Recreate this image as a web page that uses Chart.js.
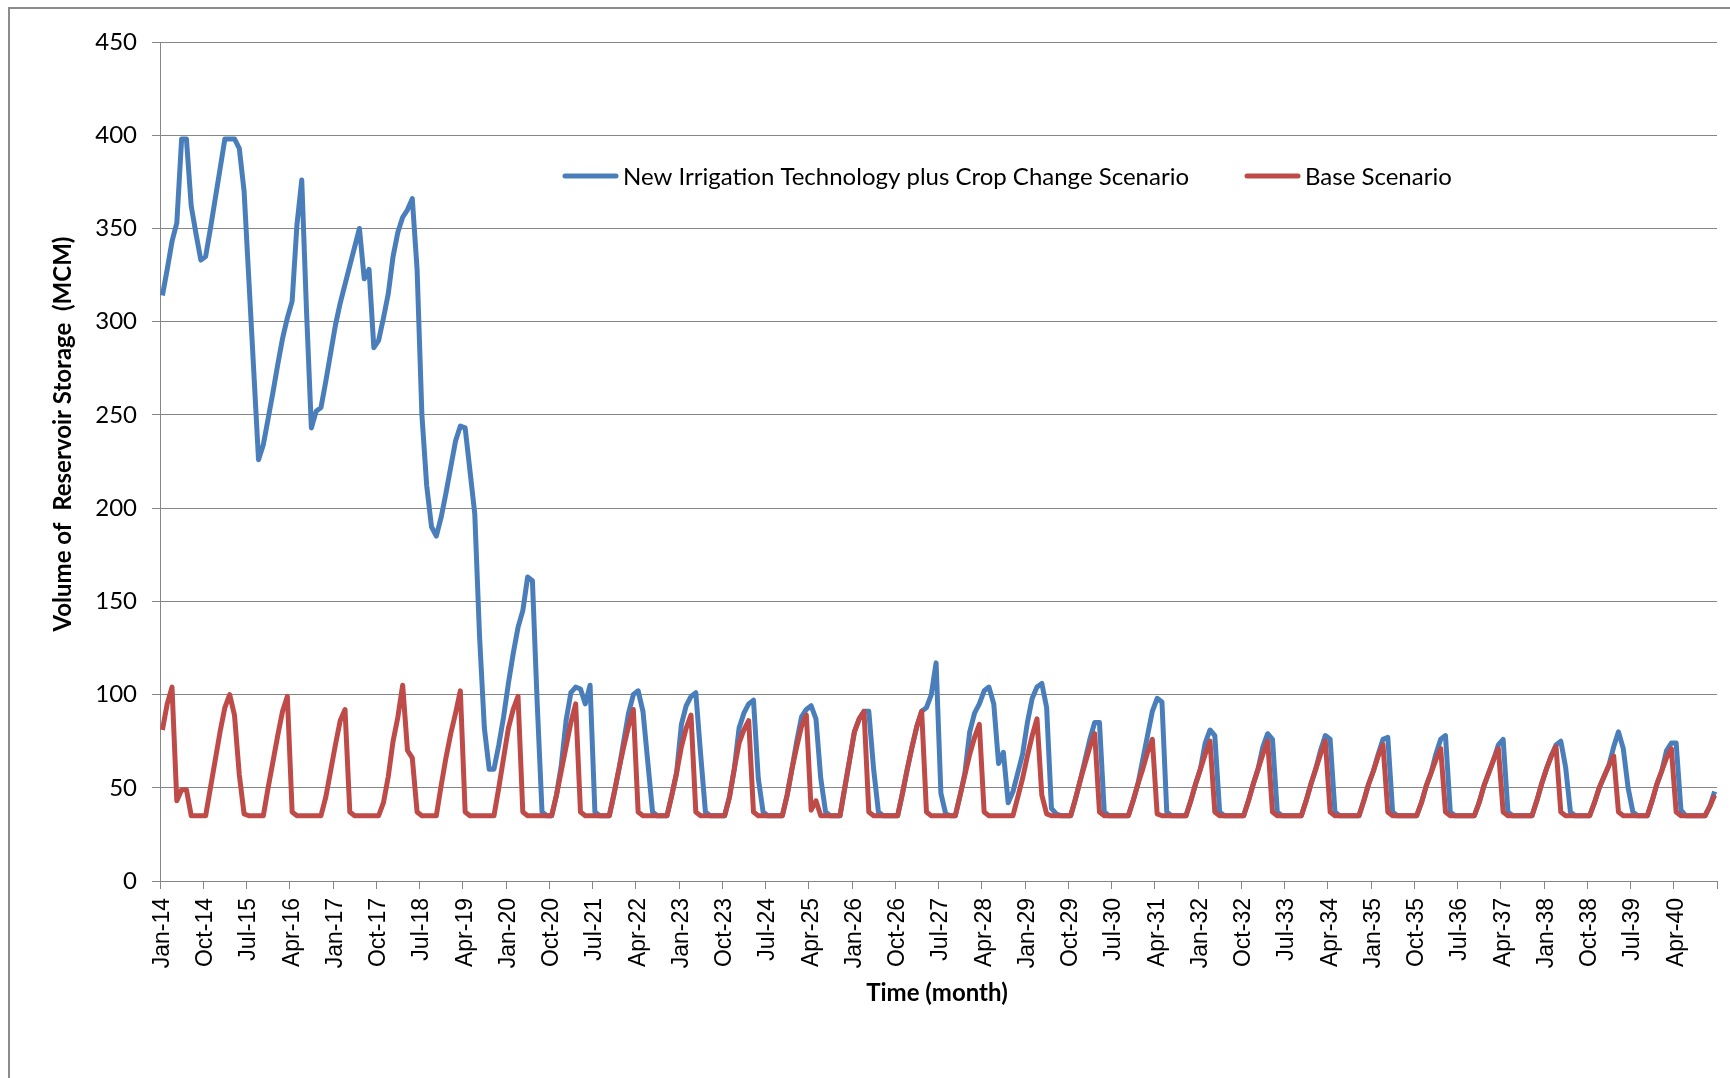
<!DOCTYPE html>
<html>
<head>
<meta charset="utf-8">
<title>Reservoir storage scenarios</title>
<script src="https://cdn.jsdelivr.net/npm/chart.js@4.4.1/dist/chart.umd.min.js"></script>
<style>
  html, body { margin: 0; padding: 0; background: #ffffff; }
  body { width: 1730px; height: 1078px; overflow: hidden; position: relative; }
  #frame { position: absolute; left: 8px; top: 7px; width: 1800px; height: 1200px;
           border: 2px solid #8c8c8c; box-sizing: border-box; }
  #chart { position: absolute; left: 0; top: 0; }
</style>
</head>
<body>
<div id="frame"></div>
<canvas id="chart" width="1730" height="1078"></canvas>
<script>
// Month axis: Jan-14 ... Dec-40
const MONTHS = ['Jan', 'Feb', 'Mar', 'Apr', 'May', 'Jun', 'Jul', 'Aug', 'Sep', 'Oct', 'Nov', 'Dec'];
const YEARS = [14, 15, 16, 17, 18, 19, 20, 21, 22, 23, 24, 25, 26, 27, 28, 29, 30,
               31, 32, 33, 34, 35, 36, 37, 38, 39, 40];
const categories = YEARS.flatMap(y => MONTHS.map(m => m + '-' + y));
const LABEL_EVERY = 9;

// Reservoir storage (MCM), one row per year (Jan..Dec)
const irrigationCropChange = [
  314, 328, 343, 353, 398, 398, 362, 347, 333, 335, 350, 366,
  382, 398, 398, 398, 393, 370, 322, 274, 226, 234, 248, 262,
  277, 291, 302, 311, 352, 376, 305, 243, 252, 254, 268, 283,
  298, 310, 320, 330, 340, 350, 323, 328, 286, 290, 302, 315,
  335, 348, 356, 360, 366, 328, 250, 212, 190, 185, 195, 208,
  222, 236, 244, 243, 220, 197, 131, 82, 60, 60, 73, 88,
  106, 122, 136, 145, 163, 161, 95, 37, 35, 35, 46, 62,
  86, 101, 104, 103, 95, 105, 37, 35, 35, 35, 47, 60,
  75, 90, 100, 102, 91, 64, 37, 35, 35, 35, 46, 58,
  84, 94, 99, 101, 68, 37, 35, 35, 35, 35, 45, 60,
  82, 90, 95, 97, 55, 37, 35, 35, 35, 35, 46, 60,
  75, 88, 92, 94, 87, 55, 37, 35, 35, 35, 50, 65,
  80, 87, 91, 91, 60, 37, 35, 35, 35, 35, 47, 60,
  72, 83, 91, 93, 100, 117, 47, 36, 35, 35, 46, 58,
  80, 90, 95, 102, 104, 95, 63, 69, 42, 48, 58, 68,
  85, 98, 104, 106, 93, 39, 36, 35, 35, 35, 44, 54,
  65, 76, 85, 85, 37, 35, 35, 35, 35, 35, 43, 52,
  65, 78, 91, 98, 96, 37, 35, 35, 35, 35, 43, 52,
  60, 74, 81, 78, 37, 35, 35, 35, 35, 35, 43, 52,
  60, 72, 79, 76, 37, 35, 35, 35, 35, 35, 43, 52,
  60, 70, 78, 76, 37, 35, 35, 35, 35, 35, 43, 52,
  59, 68, 76, 77, 37, 35, 35, 35, 35, 35, 42, 51,
  58, 68, 76, 78, 37, 35, 35, 35, 35, 35, 42, 51,
  58, 65, 73, 76, 37, 35, 35, 35, 35, 35, 43, 52,
  60, 67, 73, 75, 61, 37, 35, 35, 35, 35, 42, 50,
  56, 62, 72, 80, 71, 50, 37, 35, 35, 35, 43, 52,
  59, 70, 74, 74, 38, 35, 35, 35, 35, 35, 40, 48
];

const baseScenario = [
  81, 95, 104, 43, 49, 49, 35, 35, 35, 35, 50, 65,
  80, 93, 100, 89, 57, 36, 35, 35, 35, 35, 50, 64,
  78, 91, 99, 37, 35, 35, 35, 35, 35, 35, 45, 59,
  73, 86, 92, 37, 35, 35, 35, 35, 35, 35, 42, 56,
  75, 88, 105, 70, 66, 37, 35, 35, 35, 35, 51, 66,
  79, 90, 102, 37, 35, 35, 35, 35, 35, 35, 50, 66,
  82, 92, 99, 37, 35, 35, 35, 35, 35, 35, 46, 59,
  72, 85, 95, 37, 35, 35, 35, 35, 35, 35, 47, 60,
  72, 83, 92, 37, 35, 35, 35, 35, 35, 35, 46, 58,
  72, 82, 89, 37, 35, 35, 35, 35, 35, 35, 45, 60,
  74, 81, 86, 37, 35, 35, 35, 35, 35, 35, 46, 60,
  72, 83, 89, 38, 43, 35, 35, 35, 35, 35, 50, 65,
  80, 87, 91, 37, 35, 35, 35, 35, 35, 35, 47, 60,
  72, 83, 91, 37, 35, 35, 35, 35, 35, 35, 46, 57,
  68, 77, 84, 37, 35, 35, 35, 35, 35, 35, 45, 55,
  67, 78, 87, 46, 36, 35, 35, 35, 35, 35, 44, 54,
  63, 72, 79, 37, 35, 35, 35, 35, 35, 35, 43, 52,
  60, 69, 76, 36, 35, 35, 35, 35, 35, 35, 43, 52,
  60, 68, 75, 37, 35, 35, 35, 35, 35, 35, 43, 52,
  60, 68, 75, 37, 35, 35, 35, 35, 35, 35, 43, 52,
  60, 68, 75, 37, 35, 35, 35, 35, 35, 35, 43, 52,
  59, 67, 73, 37, 35, 35, 35, 35, 35, 35, 42, 51,
  58, 65, 71, 37, 35, 35, 35, 35, 35, 35, 42, 51,
  58, 65, 71, 37, 35, 35, 35, 35, 35, 35, 43, 52,
  60, 67, 72, 37, 35, 35, 35, 35, 35, 35, 42, 50,
  56, 62, 67, 37, 35, 35, 35, 35, 35, 35, 43, 52,
  59, 66, 71, 37, 35, 35, 35, 35, 35, 35, 40, 46
];

const yTickValues = [0, 50, 100, 150, 200, 250, 300, 350, 400, 450];
const seriesNames = ['New Irrigation Technology plus Crop Change Scenario', 'Base Scenario'];
const seriesColors = ['#4a7ebb', '#be4b48'];
const yAxisTitle = 'Volume of  Reservoir Storage  (MCM)';
const xAxisTitle = 'Time (month)';

// Category boundaries carrying a tick mark (every 9th month, plus the axis end)
const xTickIndex = [];
for (let i = 0; i <= categories.length; i += LABEL_EVERY) xTickIndex.push(i);

// Each month sits in the middle of its category slot
const asPoints = values => values.map((v, i) => ({ x: i + 0.5, y: v }));

const AXIS_GREY = '#868686';
const UI_FONT = 'Lato, "Open Sans", sans-serif';
const TICK_FONT = '"Liberation Sans", Arial, sans-serif';
const LINE_W = 5;

// Legend sits inside the plot; axis titles drawn by hand
const chartText = {
  id: 'chartText',
  afterDraw(chart, args, opts) {
    const { ctx } = chart;
    ctx.save();

    // legend
    ctx.font = '24px ' + UI_FONT;
    ctx.textBaseline = 'middle';
    ctx.textAlign = 'left';
    chart.data.datasets.forEach((ds, i) => {
      const x0 = opts.legendX[i];
      const y = opts.legendY;
      ctx.strokeStyle = ds.borderColor;
      ctx.lineWidth = LINE_W;
      ctx.lineCap = 'round';
      ctx.beginPath();
      ctx.moveTo(x0, y);
      ctx.lineTo(x0 + opts.swatch, y);
      ctx.stroke();
      ctx.fillStyle = '#000';
      ctx.fillText(ds.label, x0 + opts.swatch + 7, y + 1);
    });

    // axis titles
    ctx.fillStyle = '#000';
    ctx.font = 'bold 24px ' + UI_FONT;
    ctx.textAlign = 'center';
    ctx.textBaseline = 'middle';
    ctx.fillText(xAxisTitle, opts.xTitle[0], opts.xTitle[1]);

    ctx.translate(opts.yTitle[0], opts.yTitle[1]);
    ctx.rotate(-Math.PI / 2);
    ctx.fillText(yAxisTitle, 0, 0);
    ctx.restore();
  }
};

new Chart(document.getElementById('chart'), {
  type: 'line',
  data: {
    datasets: [
      {
        label: seriesNames[0],
        data: asPoints(irrigationCropChange),
        borderColor: seriesColors[0],
        backgroundColor: seriesColors[0],
        borderWidth: LINE_W,
        pointRadius: 0,
        tension: 0,
        fill: false,
        borderJoinStyle: 'round',
        order: 2
      },
      {
        label: seriesNames[1],
        data: asPoints(baseScenario),
        borderColor: seriesColors[1],
        backgroundColor: seriesColors[1],
        borderWidth: LINE_W,
        pointRadius: 0,
        tension: 0,
        fill: false,
        borderJoinStyle: 'round',
        order: 1
      }
    ]
  },
  options: {
    responsive: false,
    devicePixelRatio: 1,
    animation: false,
    events: [],
    parsing: true,
    layout: { padding: { top: 42, right: 13, bottom: 0, left: 0 } },
    plugins: {
      legend: { display: false },
      tooltip: { enabled: false },
      chartText: {
        legendX: [565, 1247],
        legendY: 176,
        swatch: 51,
        xTitle: [937, 993],
        yTitle: [63, 434]
      }
    },
    scales: {
      x: {
        type: 'linear',
        min: 0,
        max: categories.length,
        border: { display: true, color: AXIS_GREY, width: 1 },
        grid: { display: true, drawOnChartArea: false, drawTicks: true, tickLength: 8, color: AXIS_GREY },
        ticks: {
          autoSkip: false,
          minRotation: 90,
          maxRotation: 90,
          padding: 9,
          labelOffset: 2.5,
          color: '#000',
          font: { family: TICK_FONT, size: 23 },
          callback(value) {
            return value < categories.length ? categories[value] : '';
          }
        },
        afterBuildTicks(scale) { scale.ticks = xTickIndex.map(v => ({ value: v })); },
        afterFit(scale) {
          scale.height = 197;
          scale.paddingLeft = 0;
          scale.paddingRight = 0;
        }
      },
      y: {
        min: 0,
        max: 450,
        border: { display: true, color: AXIS_GREY, width: 1 },
        grid: { color: AXIS_GREY, lineWidth: 1, drawTicks: true, tickLength: 8 },
        ticks: {
          padding: 15,
          color: '#000',
          font: { family: UI_FONT, size: 24 }
        },
        afterBuildTicks(scale) { scale.ticks = yTickValues.map(v => ({ value: v })); },
        afterFit(scale) {
          scale.width = 160;
          scale.paddingTop = 0;
          scale.paddingBottom = 0;
        }
      }
    }
  },
  plugins: [chartText]
});
</script>
</body>
</html>
